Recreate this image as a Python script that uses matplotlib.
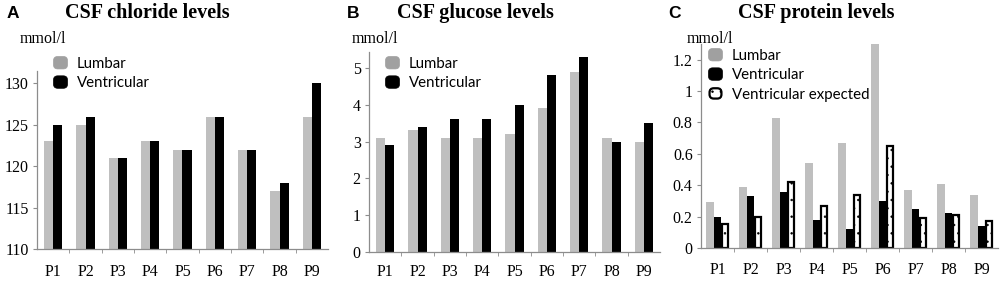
import matplotlib
matplotlib.use("Agg")
import matplotlib.pyplot as plt
import numpy as np
from matplotlib.patches import Patch, FancyBboxPatch
from matplotlib.legend_handler import HandlerPatch

patients = ["P1", "P2", "P3", "P4", "P5", "P6", "P7", "P8", "P9"]
chloride_lumbar = [123, 125, 121, 123, 122, 126, 122, 117, 126]
chloride_ventricular = [125, 126, 121, 123, 122, 126, 122, 118, 130]
glucose_lumbar = [3.1, 3.3, 3.1, 3.1, 3.2, 3.9, 4.9, 3.1, 3.0]
glucose_ventricular = [2.9, 3.4, 3.6, 3.6, 4.0, 4.8, 5.3, 3.0, 3.5]
protein_lumbar = [0.29, 0.39, 0.83, 0.54, 0.67, 1.30, 0.37, 0.41, 0.34]
protein_ventricular = [0.20, 0.33, 0.36, 0.18, 0.12, 0.30, 0.25, 0.22, 0.14]
protein_expected = [0.15, 0.20, 0.42, 0.27, 0.34, 0.65, 0.19, 0.21, 0.17]

GREY = "#bfbfbf"
SPINE = "#8c8c8c"
plt.rcParams["hatch.linewidth"] = 0.5

W, H = 1000, 285
fig = plt.figure(figsize=(W / 100, H / 100), dpi=100)


def axes_px(left, right, top, bottom):
    return fig.add_axes([left / W, 1 - bottom / H, (right - left) / W, (bottom - top) / H])


serif = "Liberation Serif"
legfont = "Lato"


class RoundHandler(HandlerPatch):
    def create_artists(self, legend, orig_handle, xdescent, ydescent, width,
                       height, fontsize, trans):
        lw = orig_handle.get_linewidth()
        inset = lw * 0.7
        p = FancyBboxPatch((-xdescent + inset, -ydescent + inset),
                           width - 2 * inset, height - 2 * inset,
                           boxstyle="round,pad=0,rounding_size=%f" % (0.28 * width),
                           facecolor=orig_handle.get_facecolor(),
                           edgecolor=orig_handle.get_edgecolor(),
                           linewidth=lw, hatch=orig_handle.get_hatch(),
                           transform=trans)
        return [p]


def style(ax, ylim, yticks, yticklabels, xpad):
    x = np.arange(len(patients))
    ax.set_xlim(-0.5, len(patients) - 0.5)
    ax.set_ylim(*ylim)
    ax.set_xticks(x)
    ax.set_xticklabels(patients, family=serif, fontsize=11.5)
    ax.set_xticks(np.arange(0.5, len(patients) - 0.5, 1.0), minor=True)
    ax.tick_params(axis="x", which="major", length=0, pad=xpad)
    ax.tick_params(axis="x", which="minor", length=3, color=SPINE, direction="out")
    ax.set_yticks(yticks)
    ax.set_yticklabels(yticklabels, family=serif, fontsize=11.5)
    ax.tick_params(axis="y", length=3, pad=3, color=SPINE, direction="out")
    for s in ["top", "right"]:
        ax.spines[s].set_visible(False)
    for s in ["left", "bottom"]:
        ax.spines[s].set_color(SPINE)
        ax.spines[s].set_linewidth(0.9)


x = np.arange(len(patients))
w = 0.285

# Panel A
axA = axes_px(37, 328, 71, 249)
axA.bar(x - w / 2, chloride_lumbar, w, color=GREY)
axA.bar(x + w / 2, chloride_ventricular, w, color="black")
style(axA, (110, 131.5), [110, 115, 120, 125, 130],
      ["110", "115", "120", "125", "130"], 11)

# Panel B
axB = axes_px(369, 660, 52, 252)
axB.bar(x - w / 2, glucose_lumbar, w, color=GREY)
axB.bar(x + w / 2, glucose_ventricular, w, color="black")
style(axB, (0, 5.43), [0, 1, 2, 3, 4, 5], ["0", "1", "2", "3", "4", "5"], 8.8)

# Panel C
axC = axes_px(701, 998, 44, 248)
wc = 0.23
axC.bar(x - wc, protein_lumbar, wc, color=GREY)
axC.bar(x, protein_ventricular, wc, color="black")
axC.bar(x + wc, protein_expected, wc * 0.88, color="white", edgecolor="black",
        linewidth=1.6, hatch="..")
style(axC, (0, 1.3), [0, 0.2, 0.4, 0.6, 0.8, 1.0, 1.2],
      ["0", "0.2", "0.4", "0.6", "0.8", "1", "1.2"], 9.8)

# Legends
h_l = Patch(facecolor="#a0a0a0", edgecolor="#a0a0a0", linewidth=0.5)
h_v = Patch(facecolor="black", edgecolor="black", linewidth=0.5)
h_e = Patch(facecolor="white", edgecolor="black", linewidth=1.6, hatch="..")
leg_kw = dict(loc="upper left", frameon=False, borderpad=0, borderaxespad=0,
              handlelength=1.0, handleheight=1.0, handletextpad=0.6,
              labelspacing=0.3, prop={"family": legfont, "size": 10.8},
              handler_map={Patch: RoundHandler()})
axA.legend([h_l, h_v], ["Lumbar", "Ventricular"],
           bbox_to_anchor=((53 - 37) / 291, (249 - 56) / 178), **leg_kw)
axB.legend([h_l, h_v], ["Lumbar", "Ventricular"],
           bbox_to_anchor=((385 - 369) / 291, (252 - 56) / 200), **leg_kw)
axC.legend([h_l, h_v, h_e], ["Lumbar", "Ventricular", "Ventricular expected"],
           bbox_to_anchor=((708 - 701) / 297, (248 - 48) / 204), **leg_kw)

# Titles, panel letters, units
titles = [("A", 7, "CSF chloride levels", 147, 20),
          ("B", 347, "CSF glucose levels", 475, 352),
          ("C", 668, "CSF protein levels", 816, 687)]
for letter, lx, title, tx, ux in titles:
    fig.text(lx / W, 1 - 18 / H, letter, family="Liberation Sans", weight="bold",
             fontsize=12.5, ha="left", va="baseline")
    fig.text(tx / W, 1 - 18 / H, title, family=serif, weight="bold",
             fontsize=14.5, ha="center", va="baseline")
    fig.text(ux / W, 1 - 43 / H, "mmol/l", family=serif, fontsize=11.5,
             ha="left", va="baseline")

fig.savefig("out.png", dpi=100)
